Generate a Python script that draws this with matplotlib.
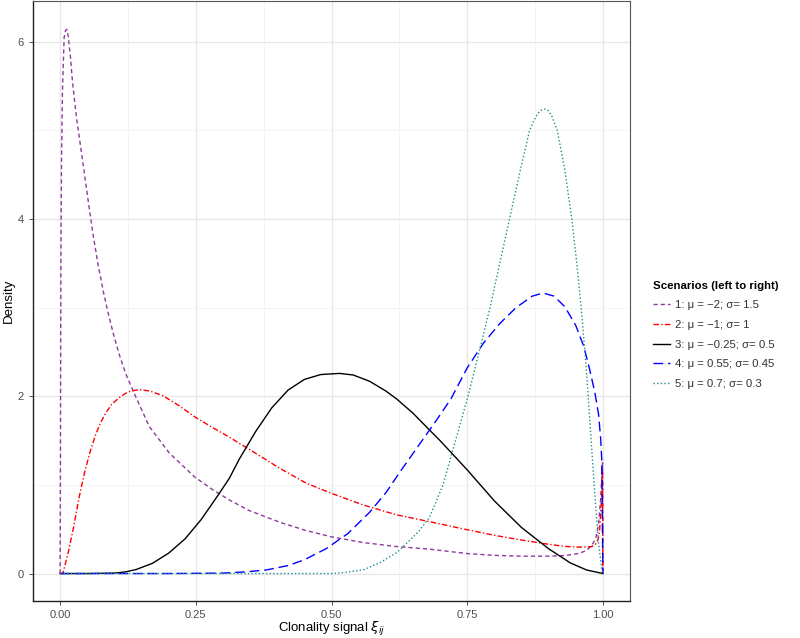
import numpy as np
import matplotlib
matplotlib.use("Agg")
import matplotlib.pyplot as plt
from matplotlib.ticker import MultipleLocator

plt.rcParams['font.family'] = ['Liberation Sans', 'DejaVu Sans']
plt.rcParams['mathtext.fontset'] = 'dejavusans'

# values
x1 = [0, 0.0005, 0.001, 0.0015, 0.0025, 0.0043, 0.0074, 0.0100, 0.0125, 0.0150, 0.0190, 0.0227,
      0.030, 0.040, 0.050, 0.060, 0.070, 0.080, 0.090, 0.100, 0.110, 0.1212, 0.1396, 0.1642,
      0.2011, 0.2478, 0.28, 0.3118, 0.3487, 0.404, 0.4532, 0.4994, 0.5577, 0.6193, 0.6808,
      0.75, 0.80, 0.85, 0.90, 0.93, 0.955, 0.97, 0.98, 0.987, 0.992, 0.996, 0.9994, 1.0]
y1 = [0, 1.2, 2.6, 3.6, 4.6, 5.45, 6.05, 6.13, 6.14, 6.06, 5.83, 5.55,
      5.15, 4.72, 4.28, 3.85, 3.48, 3.17, 2.90, 2.66, 2.45, 2.25, 1.99, 1.66,
      1.36, 1.09, 0.95, 0.83, 0.71, 0.58, 0.485, 0.415, 0.35, 0.305, 0.275,
      0.225, 0.205, 0.196, 0.196, 0.203, 0.225, 0.26, 0.32, 0.40, 0.55, 0.85, 1.25, 0]

x2 = [0, 0.005, 0.015, 0.025, 0.035, 0.045, 0.055, 0.065, 0.075, 0.085, 0.095, 0.11,
      0.125, 0.145, 0.165, 0.19, 0.22, 0.25, 0.28, 0.31, 0.3487, 0.404, 0.4532, 0.4994,
      0.5577, 0.6193, 0.6808, 0.75, 0.8038, 0.85, 0.90, 0.93, 0.955, 0.97, 0.98, 0.986,
      0.991, 0.994, 0.997, 0.9994, 1.0]
y2 = [0, 0, 0.24, 0.53, 0.86, 1.14, 1.37, 1.56, 1.71, 1.82, 1.91, 1.99,
      2.05, 2.075, 2.06, 2.005, 1.89, 1.76, 1.65, 1.545, 1.40, 1.19, 1.02, 0.906,
      0.775, 0.663, 0.585, 0.494, 0.427, 0.378, 0.33, 0.306, 0.298, 0.30, 0.305, 0.33,
      0.38, 0.48, 0.80, 1.15, 0]

x3 = [0, 0.05, 0.1, 0.12, 0.14, 0.17, 0.20, 0.23, 0.26, 0.29, 0.3118, 0.33,
      0.36, 0.39, 0.42, 0.45, 0.48, 0.5148, 0.54, 0.57, 0.60, 0.62, 0.65, 0.6808,
      0.70, 0.75, 0.80, 0.85, 0.90, 0.94, 0.97, 1.0]
y3 = [0, 0, 0.005, 0.018, 0.045, 0.115, 0.23, 0.39, 0.61, 0.875, 1.075, 1.29,
      1.60, 1.87, 2.07, 2.19, 2.245, 2.258, 2.24, 2.17, 2.06, 1.97, 1.81, 1.618,
      1.50, 1.17, 0.82, 0.52, 0.28, 0.12, 0.04, 0]

x4 = [0, 0.2, 0.3, 0.34, 0.38, 0.42, 0.45, 0.49, 0.53, 0.57, 0.60, 0.63,
      0.66, 0.69, 0.72, 0.75, 0.78, 0.81, 0.84, 0.87, 0.89, 0.91, 0.93, 0.95,
      0.965, 0.975, 0.985, 0.992, 0.996, 0.998, 1.0]
y4 = [0, 0, 0.005, 0.018, 0.04, 0.09, 0.155, 0.28, 0.45, 0.69, 0.91, 1.18,
      1.44, 1.70, 1.97, 2.32, 2.60, 2.82, 3.00, 3.13, 3.165, 3.13, 3.01, 2.80,
      2.56, 2.32, 2.05, 1.80, 1.52, 1.28, 0]

x5 = [0, 0.45, 0.50, 0.53, 0.56, 0.59, 0.62, 0.64, 0.66, 0.68, 0.69, 0.7054,
      0.7285, 0.7515, 0.772, 0.792, 0.81, 0.828, 0.846, 0.865, 0.872, 0.880, 0.887, 0.894,
      0.900, 0.906, 0.916, 0.930, 0.9428, 0.952, 0.960, 0.967, 0.973, 0.979, 0.984, 0.9914,
      0.998, 1.0]
y5 = [0, 0, 0.0, 0.015, 0.045, 0.125, 0.235, 0.35, 0.47, 0.63, 0.77, 1.0,
      1.5, 2.0, 2.5, 3.0, 3.5, 4.0, 4.5, 5.0, 5.10, 5.19, 5.23, 5.24,
      5.22, 5.16, 5.0, 4.55, 4.0, 3.5, 3.0, 2.5, 2.0, 1.45, 1.0, 0.38,
      0.045, 0]

labels = ["1: \u03bc = \u22122; \u03c3= 1.5",
          "2: \u03bc = \u22121; \u03c3= 1",
          "3: \u03bc = \u22120.25; \u03c3= 0.5",
          "4: \u03bc = 0.55; \u03c3= 0.45",
          "5: \u03bc = 0.7; \u03c3= 0.3"]
colors = ["#8E3A9E", "#FF0000", "#000000", "#0000FF", "#1F8F8F"]
dashes = [(3, 2.2), (4, 1.6, 1, 1.6), None, (7, 3.5), (1, 1.6)]

fig = plt.figure(figsize=(8, 6.38), dpi=100)
ax = fig.add_axes([33 / 800, 37 / 638, 597 / 800, 600 / 638])

series = [(x1, y1), (x2, y2), (x3, y3), (x4, y4), (x5, y5)]
for (xs, ys), lab, col, ds in zip(series, labels, colors, dashes):
    line, = ax.plot(xs, ys, color=col, lw=1.0, label=lab)
    if ds is not None:
        line.set_dashes(ds)

ax.set_xlim(-0.05, 1.05)
ax.set_ylim(-0.31, 6.46)
ax.xaxis.set_minor_locator(MultipleLocator(0.125))
ax.yaxis.set_major_locator(MultipleLocator(2))
ax.yaxis.set_minor_locator(MultipleLocator(1))
ax.set_xticks([0, 0.25, 0.5, 0.75, 1.0])
ax.set_xticklabels(["0.00", "0.25", "0.50", "0.75", "1.00"])
ax.grid(which='major', color='#E6E6E6', lw=0.9)
ax.grid(which='minor', color='#F0F0F0', lw=0.5)
ax.set_axisbelow(True)
ax.tick_params(which='major', labelsize=8, labelcolor='#4D4D4D', color='#333333',
               length=3, width=0.6)
ax.tick_params(which='minor', length=0)
for s in ['left', 'bottom']:
    ax.spines[s].set_color('#222222')
    ax.spines[s].set_linewidth(1.0)
for s in ['top', 'right']:
    ax.spines[s].set_color('#555555')
    ax.spines[s].set_linewidth(0.8)

ax.set_ylabel("Density", fontsize=9.5, labelpad=2)
ax.set_xlabel(r"Clonality signal $\xi_{ij}$", fontsize=9.5, labelpad=0)

leg = fig.legend(loc='upper left', bbox_to_anchor=(648 / 800, 1 - 276 / 638),
                 frameon=False, fontsize=8.2, title="Scenarios (left to right)",
                 title_fontproperties={'weight': 'bold', 'size': 8.2},
                 handlelength=1.5, labelspacing=0.85, handletextpad=0.45,
                 alignment='left', borderaxespad=0)
for t in leg.get_texts():
    t.set_color('#333333')

fig.savefig("out.png", dpi=100)
